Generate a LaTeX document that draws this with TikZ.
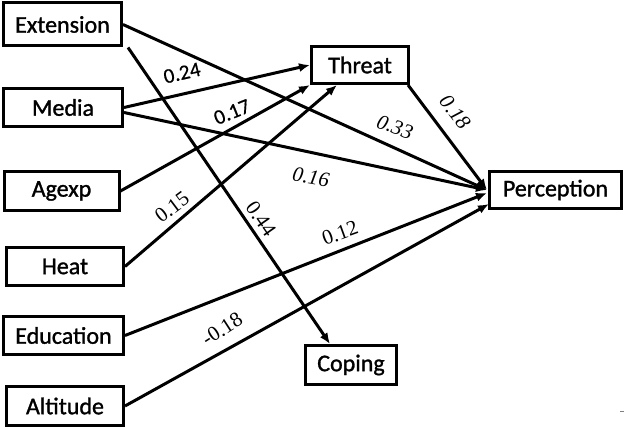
\documentclass[tikz,border=0pt]{standalone}
\usepackage{fontspec}
\setmainfont{Liberation Serif}
\newfontfamily\boxfont[FakeBold=1.2]{Carlito}
\newfontfamily\coeffont[FakeBold=0.6]{Carlito}
\usetikzlibrary{arrows.meta}
\tikzset{
  var/.style={draw=black, line width=3pt, fill=white, inner sep=0pt, font=\boxfont\fontsize{24}{28}\selectfont},
  path/.style={line width=3pt, -{Latex[length=11pt,width=9pt]}},
  coef/.style={inner sep=0pt, font=\fontsize{21}{24}\selectfont},
  coefi/.style={coef, font=\fontsize{21}{24}\selectfont\itshape},
  coefc/.style={inner sep=0pt, font=\coeffont\fontsize{21}{24}\selectfont}
}
\begin{document}
\begin{tikzpicture}[x=1pt,y=-1pt]
\useasboundingbox (0,0) rectangle (633,428);
% boxes
\node[var, minimum width=118pt, minimum height=43pt] (ext) at (62.5,24.5) {Extension};
\node[var, minimum width=119pt, minimum height=38pt] (med) at (63,107.5) {Media};
\node[var, minimum width=115pt, minimum height=39pt] (age) at (61.5,191) {Agexp};
\node[var, minimum width=117pt, minimum height=38pt] (heat) at (65,266.5) {Heat};
\node[var, minimum width=120pt, minimum height=38pt] (edu) at (63.5,335.5) {Education};
\node[var, minimum width=117pt, minimum height=39pt] (alt) at (65,406) {Altitude};
\node[var, minimum width=97pt, minimum height=37pt] (thr) at (360,65) {Threat};
\node[var, minimum width=132pt, minimum height=37pt] (per) at (555.5,190) {Perception};
\node[var, minimum width=91pt, minimum height=39pt] (cop) at (351,365) {Coping};
% end points
\coordinate (pin) at ([xshift=-1pt]per.west);
\coordinate (pinalt) at ([xshift=1pt,yshift=-14pt]per.west);
\coordinate (pinedu) at ([xshift=-1pt,yshift=-3pt]per.west);
\coordinate (copin) at ([xshift=-21pt]cop.north);
\coordinate (thrheat) at ([xshift=27pt]thr.south west);
\coordinate (medlow) at ([yshift=-5pt]med.east);
\coordinate (extlow) at ([xshift=5pt]ext.south east);
% paths
\draw[path] (ext.east) -- (pin);
\draw[path] (extlow) -- (copin);
\draw[path] (med.east) -- (thr.west);
\draw[path] (medlow) -- (pin);
\draw[path] (age.east) -- (thr.south west);
\draw[path] (heat.east) -- (thrheat);
\draw[path] (edu.east) -- (pinedu);
\draw[path] (alt.east) -- (pinalt);
\draw[path] ([xshift=-2pt]thr.south east) -- (pin);
% coefficients
\node[coefc, rotate=13] (c1) at (182,73) {0.24};
\node[coefc, rotate=22] (c2) at (232,112) {0.17};
\node[coefi, rotate=-20] (c3) at (395,127) {0.33};
\node[coefi, rotate=-52] (c4) at (455,112) {0.18};
\node[coefi, rotate=-10] (c5) at (311,177) {0.16};
\node[coef, rotate=-55] (c6) at (261,219) {0.44};
\node[coef, rotate=37] (c7) at (172,207) {0.15};
\node[coef, rotate=20] (c8) at (340,233) {0.12};
\node[coef, rotate=33] (c9) at (222,329) {-0.18};
% tiny mark
\draw[gray, line width=1pt] (620,411) -- (624,411);
\end{tikzpicture}
\end{document}
